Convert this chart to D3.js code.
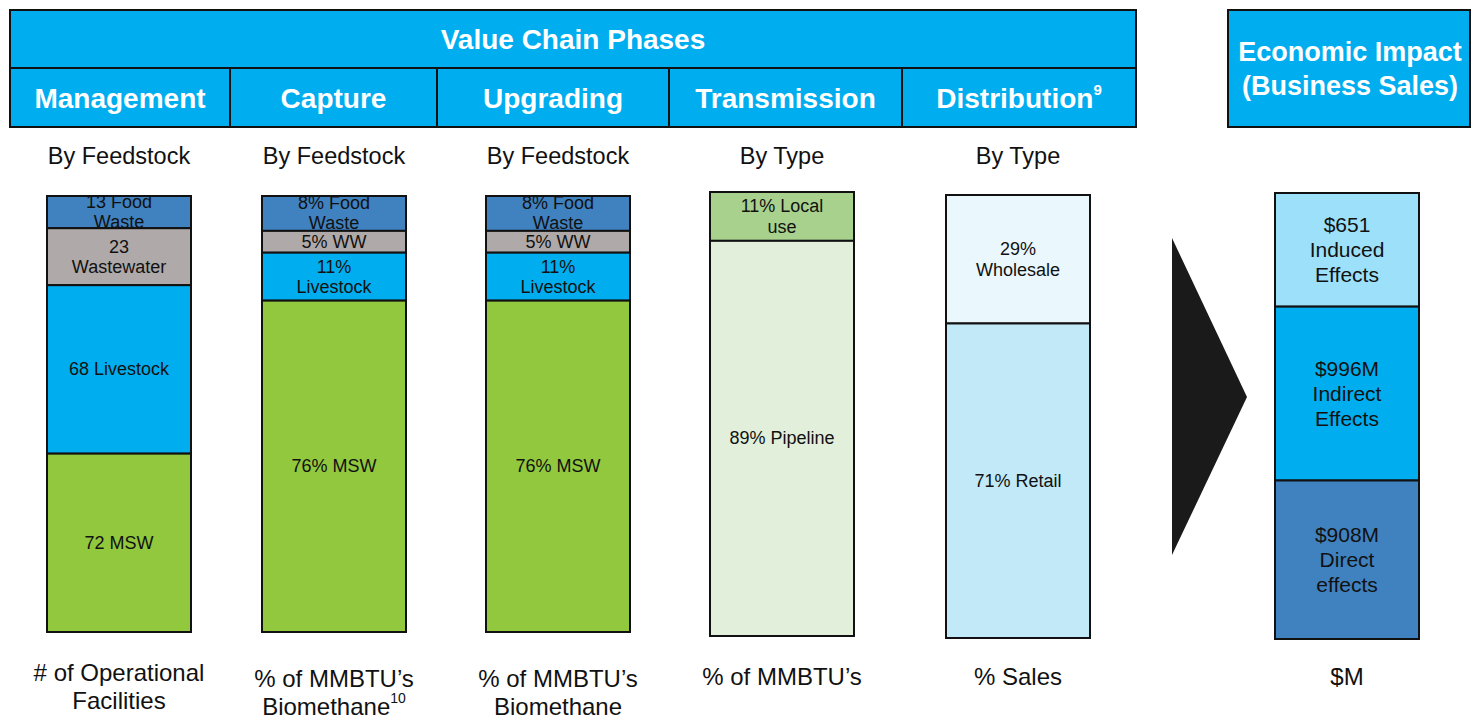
<!DOCTYPE html>
<html>
<head>
<meta charset="utf-8">
<script src="https://cdn.jsdelivr.net/npm/d3@7"></script>
<style>
  body { margin: 0; background: #fff; }
  svg { display: block; font-family: "Liberation Sans", Arial, sans-serif; }
</style>
</head>
<body>
<svg id="chart" width="1473" height="718"></svg>
<script>
// phases of the value chain
const phases = ['Management', 'Capture', 'Upgrading', 'Transmission', 'Distribution'];
const phaseSup = ['', '', '', '', '9'];
const subtitles = ['By Feedstock', 'By Feedstock', 'By Feedstock', 'By Type', 'By Type'];
const footers = [
    [['# of Operational', ''], ['Facilities', '']],
    [["% of MMBTU\u2019s", ''], ['Biomethane', '10']],
    [["% of MMBTU\u2019s", ''], ['Biomethane', '']],
    [["% of MMBTU\u2019s", '']],
    [['% Sales', '']]
];

// stacked segments, top to bottom
const managementValues = [13, 23, 68, 72];
const managementLabels = [['13 Food', 'Waste'], ['23', 'Wastewater'], ['68 Livestock'], ['72 MSW']];
const captureValues = [8, 5, 11, 76];
const captureLabels = [['8% Food', 'Waste'], ['5% WW'], ['11%', 'Livestock'], ['76% MSW']];
const upgradingValues = [8, 5, 11, 76];
const upgradingLabels = [['8% Food', 'Waste'], ['5% WW'], ['11%', 'Livestock'], ['76% MSW']];
const transmissionValues = [11, 89];
const transmissionLabels = [['11% Local', 'use'], ['89% Pipeline']];
const distributionValues = [29, 71];
const distributionLabels = [['29%', 'Wholesale'], ['71% Retail']];
const impactValues = [651, 996, 908];
const impactLabels = [['$651', 'Induced', 'Effects'], ['$996M', 'Indirect', 'Effects'], ['$908M', 'Direct', 'effects']];

const colors = {
    header: '#00aeef',
    food: '#4081c0',
    water: '#afaaa9',
    livestock: '#00aeef',
    msw: '#92c83e',
    local: '#a9d18e',
    pipeline: '#e2efda',
    wholesale: '#eaf7fd',
    retail: '#c1e9f8',
    induced: '#9de0fa',
    indirect: '#00aeef',
    direct: '#4081c0'
};

const feedstockColors = [colors.food, colors.water, colors.livestock, colors.msw];

const svg = d3.select('#chart');

// header table layout
const headerX = [10, 230, 437, 669, 902, 1136];
const headerTop = 10, headerMid = 68, headerBottom = 127;

svg.append('rect')
    .attr('x', headerX[0]).attr('y', headerTop)
    .attr('width', headerX[5] - headerX[0]).attr('height', headerBottom - headerTop)
    .attr('fill', colors.header).attr('stroke', '#111').attr('stroke-width', 2);

svg.append('line')
    .attr('x1', headerX[0]).attr('x2', headerX[5])
    .attr('y1', headerMid).attr('y2', headerMid)
    .attr('stroke', '#111').attr('stroke-width', 2);

svg.selectAll('.divider')
    .data(headerX.slice(1, 5))
    .enter().append('line')
    .attr('x1', d => d).attr('x2', d => d)
    .attr('y1', headerMid).attr('y2', headerBottom)
    .attr('stroke', '#111').attr('stroke-width', 2);

svg.append('text')
    .attr('x', (headerX[0] + headerX[5]) / 2).attr('y', 39)
    .attr('text-anchor', 'middle').attr('dominant-baseline', 'central')
    .attr('fill', '#fff').attr('font-weight', 'bold').attr('font-size', 28)
    .text('Value Chain Phases');

const phaseText = svg.selectAll('.phase')
    .data(phases)
    .enter().append('text')
    .attr('x', (d, i) => (headerX[i] + headerX[i + 1]) / 2)
    .attr('y', 98)
    .attr('text-anchor', 'middle').attr('dominant-baseline', 'central')
    .attr('fill', '#fff').attr('font-weight', 'bold').attr('font-size', 28);
phaseText.append('tspan').text(d => d);
phaseText.append('tspan')
    .attr('font-size', 15).attr('dy', -9)
    .text((d, i) => phaseSup[i]);

// economic impact header box
svg.append('rect')
    .attr('x', 1228).attr('y', headerTop)
    .attr('width', 242).attr('height', headerBottom - headerTop)
    .attr('fill', colors.header).attr('stroke', '#111').attr('stroke-width', 2);

svg.selectAll('.impactTitle')
    .data(['Economic Impact', '(Business Sales)'])
    .enter().append('text')
    .attr('x', 1350).attr('y', (d, i) => 52 + i * 34)
    .attr('text-anchor', 'middle').attr('dominant-baseline', 'central')
    .attr('fill', '#fff').attr('font-weight', 'bold').attr('font-size', 27)
    .text(d => d);

// subtitles
svg.selectAll('.subtitle')
    .data(subtitles)
    .enter().append('text')
    .attr('x', (d, i) => [119, 334, 558, 782, 1018][i])
    .attr('y', 156)
    .attr('text-anchor', 'middle').attr('dominant-baseline', 'central')
    .attr('font-size', 23.5).attr('fill', '#111')
    .text(d => d);

// bars
const barWidth = 144;
const bars = [
    {cx: 119, top: 196, bottom: 632, values: managementValues, labels: managementLabels, fills: feedstockColors, fontSize: 18, lineH: 20},
    {cx: 334, top: 196, bottom: 632, values: captureValues, labels: captureLabels, fills: feedstockColors, fontSize: 18, lineH: 20},
    {cx: 558, top: 196, bottom: 632, values: upgradingValues, labels: upgradingLabels, fills: feedstockColors, fontSize: 18, lineH: 20},
    {cx: 782, top: 192, bottom: 636, values: transmissionValues, labels: transmissionLabels, fills: [colors.local, colors.pipeline], fontSize: 18, lineH: 21},
    {cx: 1018, top: 195, bottom: 638, values: distributionValues, labels: distributionLabels, fills: [colors.wholesale, colors.retail], fontSize: 18, lineH: 21},
    {cx: 1347, top: 193, bottom: 639, values: impactValues, labels: impactLabels, fills: [colors.induced, colors.indirect, colors.direct], fontSize: 21, lineH: 25}
];

bars.forEach((bar) => {
    const y = d3.scaleLinear()
        .domain([0, d3.sum(bar.values)])
        .range([bar.top, bar.bottom]);
    const ends = Array.from(d3.cumsum(bar.values));
    const segs = bar.values.map((v, i) => ({
        start: i === 0 ? 0 : ends[i - 1],
        end: ends[i],
        label: bar.labels[i],
        fill: bar.fills[i]
    }));

    const g = svg.append('g');

    g.selectAll('rect')
        .data(segs)
        .enter().append('rect')
        .attr('x', bar.cx - barWidth / 2)
        .attr('y', d => y(d.start))
        .attr('width', barWidth)
        .attr('height', d => y(d.end) - y(d.start))
        .attr('fill', d => d.fill)
        .attr('stroke', '#111').attr('stroke-width', 2);

    g.selectAll('text')
        .data(segs)
        .enter().append('text')
        .attr('text-anchor', 'middle')
        .attr('font-size', bar.fontSize).attr('fill', '#111')
        .each(function (d) {
            const mid = (y(d.start) + y(d.end)) / 2;
            const n = d.label.length;
            d3.select(this).selectAll('tspan')
                .data(d.label)
                .enter().append('tspan')
                .attr('x', bar.cx)
                .attr('y', (t, j) => mid + (j - (n - 1) / 2) * bar.lineH)
                .attr('dominant-baseline', 'central')
                .text(t => t);
        });
});

// arrow
svg.append('path')
    .attr('d', 'M1172,238 L1247,397 L1172,555 Z')
    .attr('fill', '#1a1a1a');

// footers
const footerX = [119, 334, 558, 782, 1018];
const footerY = [[672, 700], [678, 706], [678, 706], [676], [676]];
footers.forEach((lines, i) => {
    lines.forEach((line, j) => {
        const t = svg.append('text')
            .attr('x', footerX[i]).attr('y', footerY[i][j])
            .attr('text-anchor', 'middle').attr('dominant-baseline', 'central')
            .attr('font-size', 24).attr('fill', '#111');
        t.append('tspan').text(line[0]);
        if (line[1]) {
            t.append('tspan').attr('font-size', 14).attr('dy', -8).text(line[1]);
        }
    });
});

svg.append('text')
    .attr('x', 1347).attr('y', 676)
    .attr('text-anchor', 'middle').attr('dominant-baseline', 'central')
    .attr('font-size', 24).attr('fill', '#111')
    .text('$M');
</script>
</body>
</html>
